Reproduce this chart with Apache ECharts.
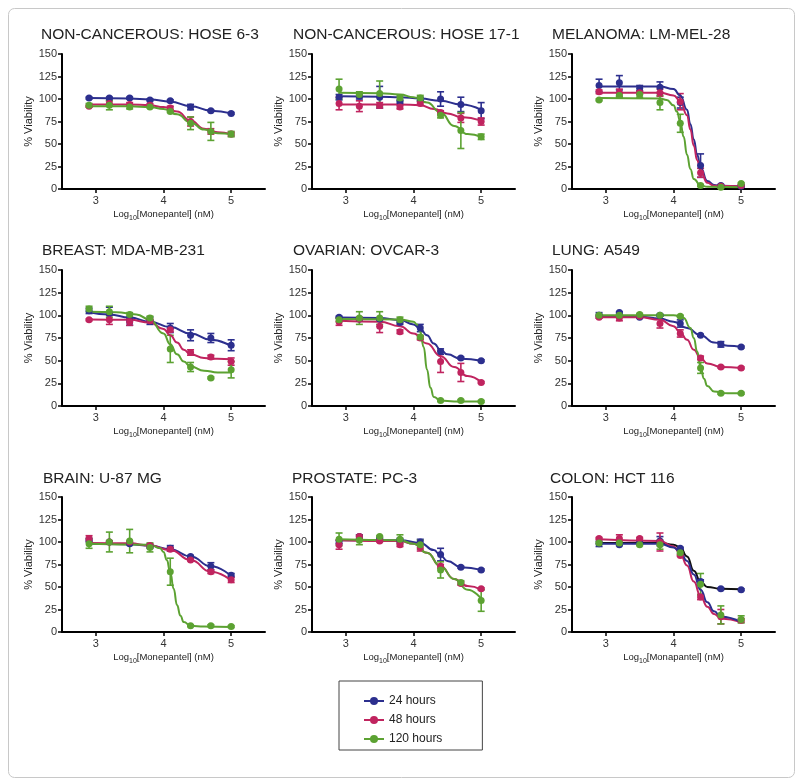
<!DOCTYPE html>
<html><head><meta charset="utf-8">
<script src="https://cdn.jsdelivr.net/npm/echarts@6/dist/echarts.min.js"></script>
<style>html,body{margin:0;padding:0;background:#fff}#c{width:800px;height:782px}</style>
</head><body><div id="c"></div><script>
// ---------- shared ----------
const doses = [2.9, 3.2, 3.5, 3.8, 4.1, 4.4, 4.7, 5.0];
const xTickValues = [3, 4, 5];
const seriesNames = ['24 hours', '48 hours', '120 hours'];
const panelTitles = ['NON-CANCEROUS: HOSE 6-3', 'NON-CANCEROUS: HOSE 17-1', 'MELANOMA: LM-MEL-28',
  'BREAST: MDA-MB-231', 'OVARIAN: OVCAR-3', 'LUNG: A549',
  'BRAIN: U-87 MG', 'PROSTATE: PC-3', 'COLON: HCT 116'];
const drugNames = ['Monepantel', 'Monepantel', 'Monepantel', 'Monepantel', 'Monepantel', 'Monepantel',
  'Monepantel', 'Monepantel', 'Monapantel'];

// ---------- HOSE 6-3 ----------
const hose63_24 = [101, 101, 101, 99, 98, 91, 87, 84];
const hose63_24_err = [1, 1, 1, 1, 1, 3, 1, 1];
const hose63_48 = [92, 95, 94, 93, 90, 75, 64, 61];
const hose63_48_err = [1, 3, 2, 2, 2, 5, 3, 2];
const hose63_120 = [93, 93, 91, 91, 86, 73, 64, 61];
const hose63_120_err = [2, 5, 2, 1, 1, 7, 10, 3];
const hose63_24_fit = [[2.9,101],[3.5,100.5],[3.8,99.5],[4.1,97],[4.4,92],[4.7,87],[5.0,84]];
const hose63_48_fit = [[2.9,94],[3.5,94],[3.8,93],[4.0,91],[4.2,86],[4.4,76],[4.6,67],[4.8,63],[5.0,61]];
const hose63_120_fit = [[2.9,92],[3.5,92],[3.8,91],[4.0,89],[4.2,83],[4.4,74],[4.6,66],[4.8,62],[5.0,61]];

// ---------- HOSE 17-1 ----------
const hose171_24 = [102, 103, 102, 97, 100, 100, 94, 87];
const hose171_24_err = [3, 3, 12, 2, 2, 8, 8, 9];
const hose171_48 = [95, 92, 93, 91, 95, 85, 79, 75];
const hose171_48_err = [7, 6, 3, 2, 2, 2, 5, 4];
const hose171_120 = [111, 105, 106, 101, 101, 82, 65, 58];
const hose171_120_err = [11, 3, 14, 3, 3, 3, 20, 3];
const hose171_24_fit = [[2.9,103],[3.5,102.5],[3.8,102],[4.1,100.5],[4.4,98],[4.7,94],[5.0,88]];
const hose171_48_fit = [[2.9,94],[3.5,94],[3.8,94],[4.1,93],[4.3,89],[4.5,84],[4.7,80],[5.0,76]];
const hose171_120_fit = [[2.9,107],[3.5,106.5],[3.8,105],[4.0,102],[4.2,96],[4.4,85],[4.6,70],[4.8,61],[5.0,58]];

// ---------- LM-MEL-28 ----------
const mel28_24 = [115, 118, 112, 113, 96, 26, 4, 3];
const mel28_24_err = [7, 8, 3, 6, 6, 13, 1, 1];
const mel28_48 = [108, 107, 107, 107, 97, 18, 3, 4];
const mel28_48_err = [2, 4, 2, 4, 9, 5, 1, 1];
const mel28_120 = [99, 104, 105, 96, 73, 4, 2, 6];
const mel28_120_err = [1, 2, 3, 8, 10, 1, 1, 1];
const mel28_24_fit = [[2.9,114],[3.8,114],[4.0,111],[4.1,104],[4.2,88],[4.25,72],[4.3,55],[4.35,38],[4.4,24],[4.5,9],[4.6,4.5],[4.7,3.5],[5.0,3]];
const mel28_48_fit = [[2.9,107],[3.8,107],[4.0,104],[4.1,98],[4.2,82],[4.25,66],[4.3,48],[4.35,32],[4.4,20],[4.5,7],[4.6,3.5],[5.0,3]];
const mel28_120_fit = [[2.9,101],[3.8,100.5],[3.9,99],[4.0,93],[4.05,86],[4.1,75],[4.15,58],[4.2,38],[4.25,22],[4.3,11],[4.4,4],[4.5,2.5],[5.0,2]];

// ---------- MDA-MB-231 ----------
const mda231_24 = [105, 102, 93, 94, 86, 78, 75, 67];
const mda231_24_err = [3, 7, 4, 4, 5, 6, 5, 6];
const mda231_48 = [95, 95, 93, 94, 84, 59, 54, 49];
const mda231_48_err = [1, 5, 4, 2, 2, 3, 2, 4];
const mda231_120 = [107, 104, 101, 97, 63, 43, 31, 40];
const mda231_120_err = [3, 6, 2, 2, 15, 5, 1, 9];
const mda231_24_fit = [[2.9,103.5],[3.2,101],[3.5,97.5],[3.8,93],[4.1,87],[4.4,80],[4.7,73],[5.0,66]];
const mda231_48_fit = [[2.9,95.5],[3.5,95],[3.8,92],[4.0,85],[4.1,78],[4.2,70],[4.3,62],[4.4,57],[4.6,53],[4.8,52],[5.0,51.5]];
const mda231_120_fit = [[2.9,104],[3.3,103.5],[3.6,101],[3.8,95],[4.0,80],[4.1,68],[4.2,57],[4.3,49],[4.4,43.5],[4.6,39],[4.8,37],[5.0,37]];

// ---------- OVCAR-3 ----------
const ovcar3_24 = [98, 96, 96, 92, 86, 60, 53, 50];
const ovcar3_24_err = [1, 1, 1, 2, 4, 3, 1, 1];
const ovcar3_48 = [93, 96, 88, 82, 75, 49, 37, 26];
const ovcar3_48_err = [4, 2, 7, 2, 2, 12, 10, 1];
const ovcar3_120 = [95, 97, 97, 95, 76, 6, 6, 5];
const ovcar3_120_err = [2, 7, 7, 3, 2, 1, 1, 1];
const ovcar3_24_fit = [[2.9,97.5],[3.5,97],[3.8,95],[4.0,90],[4.1,85],[4.2,78],[4.3,69],[4.4,62],[4.5,57],[4.7,52],[5.0,50]];
const ovcar3_48_fit = [[2.9,94],[3.5,93],[3.8,88],[4.0,80],[4.2,69],[4.4,55],[4.6,43],[4.8,33],[5.0,26]];
const ovcar3_120_fit = [[2.9,96],[3.8,95.5],[4.0,93],[4.05,90],[4.1,82],[4.15,65],[4.2,40],[4.25,20],[4.3,10],[4.4,6],[4.6,5],[5.0,5]];

// ---------- A549 ----------
const a549_24 = [100, 103, 98, 100, 91, 78, 68, 65];
const a549_24_err = [3, 1, 1, 1, 4, 1, 3, 1];
const a549_48 = [98, 97, 99, 91, 80, 53, 43, 42];
const a549_48_err = [1, 3, 1, 5, 4, 2, 1, 1];
const a549_120 = [100, 100, 101, 100, 99, 42, 14, 14];
const a549_120_err = [1, 1, 1, 1, 1, 6, 1, 1];
const a549_24_fit = [[2.9,99],[3.5,98.5],[3.8,96.5],[4.0,93],[4.2,86],[4.4,78],[4.6,70],[4.8,66.5],[5.0,65]];
const a549_48_fit = [[2.9,98],[3.5,98],[3.8,95],[4.0,88],[4.1,81],[4.2,73],[4.3,62],[4.4,53],[4.5,47],[4.7,43],[5.0,42]];
const a549_120_fit = [[2.9,100],[4.0,100],[4.15,97],[4.25,86],[4.3,75],[4.35,60],[4.4,43],[4.45,30],[4.5,22],[4.6,16],[4.8,14],[5.0,14]];

// ---------- U-87 MG ----------
const u87_24 = [102, 100, 98, 95, 93, 84, 73, 63];
const u87_24_err = [2, 1, 1, 2, 3, 1, 4, 2];
const u87_48 = [104, 100, 100, 96, 92, 80, 67, 58];
const u87_48_err = [3, 1, 1, 2, 2, 1, 2, 3];
const u87_120 = [98, 100, 101, 94, 67, 7, 7, 6];
const u87_120_err = [5, 11, 13, 5, 15, 1, 1, 1];
const u87_24_fit = [[2.9,98],[3.5,97.5],[3.8,96],[4.1,92],[4.4,84],[4.7,73],[5.0,62]];
const u87_48_fit = [[2.9,99],[3.5,98.5],[3.8,96],[4.1,91],[4.4,80],[4.7,67],[5.0,57]];
const u87_120_fit = [[2.9,98],[3.8,97],[3.95,93],[4.0,89],[4.05,80],[4.1,66],[4.15,48],[4.2,30],[4.25,18],[4.3,11],[4.4,7],[4.6,6],[5.0,5.5]];

// ---------- PC-3 ----------
const pc3_24 = [100, 106, 104, 102, 100, 86, 72, 69];
const pc3_24_err = [2, 2, 1, 2, 3, 7, 1, 1];
const pc3_48 = [97, 106, 101, 97, 94, 73, 54, 48];
const pc3_48_err = [5, 2, 1, 2, 4, 2, 2, 1];
const pc3_120 = [103, 102, 106, 103, 97, 69, 55, 35];
const pc3_120_err = [7, 5, 1, 5, 5, 9, 2, 12];
const pc3_24_fit = [[2.9,102],[3.8,102],[4.1,99],[4.3,91],[4.4,85],[4.5,79],[4.7,72],[5.0,69]];
const pc3_48_fit = [[2.9,102],[3.8,101],[4.0,98],[4.2,88],[4.4,73],[4.6,59],[4.8,51],[5.0,47]];
const pc3_120_fit = [[2.9,103],[3.8,102],[4.0,98],[4.2,88],[4.4,73],[4.6,59],[4.8,47],[5.0,37]];

// ---------- HCT 116 ----------
const hct116_24 = [98, 97, 99, 101, 93, 56, 48, 47];
const hct116_24_err = [3, 1, 1, 5, 1, 2, 1, 1];
const hct116_48 = [104, 104, 104, 100, 85, 39, 17, 13];
const hct116_48_err = [1, 4, 1, 10, 1, 3, 8, 2];
const hct116_120 = [99, 99, 97, 97, 88, 53, 19, 14];
const hct116_120_err = [1, 1, 1, 5, 1, 12, 10, 4];
const hct116_24_fit = [[2.9,99],[3.8,99],[4.0,97],[4.1,94],[4.2,84],[4.3,68],[4.4,56],[4.5,50],[4.7,48],[5.0,47.5]];
const hct116_48_fit = [[2.9,103],[3.8,101],[4.0,95],[4.1,87],[4.2,74],[4.3,56],[4.4,40],[4.5,28],[4.6,20],[4.7,15],[5.0,11]];
const hct116_120_fit = [[2.9,98],[3.8,98],[4.0,94],[4.1,89],[4.2,79],[4.3,64],[4.4,47],[4.5,33],[4.6,23],[4.7,17],[5.0,11]];

// ---------- assembly ----------
const panels = [
  [[hose63_24, hose63_24_err, hose63_24_fit], [hose63_48, hose63_48_err, hose63_48_fit], [hose63_120, hose63_120_err, hose63_120_fit]],
  [[hose171_24, hose171_24_err, hose171_24_fit], [hose171_48, hose171_48_err, hose171_48_fit], [hose171_120, hose171_120_err, hose171_120_fit]],
  [[mel28_24, mel28_24_err, mel28_24_fit], [mel28_48, mel28_48_err, mel28_48_fit], [mel28_120, mel28_120_err, mel28_120_fit]],
  [[mda231_24, mda231_24_err, mda231_24_fit], [mda231_48, mda231_48_err, mda231_48_fit], [mda231_120, mda231_120_err, mda231_120_fit]],
  [[ovcar3_24, ovcar3_24_err, ovcar3_24_fit], [ovcar3_48, ovcar3_48_err, ovcar3_48_fit], [ovcar3_120, ovcar3_120_err, ovcar3_120_fit]],
  [[a549_24, a549_24_err, a549_24_fit], [a549_48, a549_48_err, a549_48_fit], [a549_120, a549_120_err, a549_120_fit]],
  [[u87_24, u87_24_err, u87_24_fit], [u87_48, u87_48_err, u87_48_fit], [u87_120, u87_120_err, u87_120_fit]],
  [[pc3_24, pc3_24_err, pc3_24_fit], [pc3_48, pc3_48_err, pc3_48_fit], [pc3_120, pc3_120_err, pc3_120_fit]],
  [[hct116_24, hct116_24_err, hct116_24_fit], [hct116_48, hct116_48_err, hct116_48_fit], [hct116_120, hct116_120_err, hct116_120_fit]]
];

const COLORS = ['#2C2F8E', '#C0245F', '#5CA232'];
// HCT 116 fit curves are drawn black / red / blue in the original
const colonFitColors = ['#111111', '#C0245F', '#2C2F8E'];

const colLeft = [62, 312, 572];
const rowTop = [54, 270, 497];
const rowHeight = [135, 136, 135];
const gridWidth = 203;
const titleLeft = [[41, 293, 552], [42, 293, 552], [43, 292, 550]];
const titleTop = [27, 243, 471];
const yNameGap = [27, 22, 22];

const FONT = 'Liberation Sans, Arial, Helvetica, sans-serif';

function errRender(params, api) {
  const x = api.value(0), lo = api.value(1), hi = api.value(2);
  const p1 = api.coord([x, lo]), p2 = api.coord([x, hi]);
  const c = api.visual('color');
  const w = 3.5;
  const st = { stroke: c, lineWidth: 1.6 };
  return {
    type: 'group', children: [
      { type: 'line', shape: { x1: p1[0], y1: p1[1], x2: p2[0], y2: p2[1] }, style: st },
      { type: 'line', shape: { x1: p1[0] - w, y1: p1[1], x2: p1[0] + w, y2: p1[1] }, style: st },
      { type: 'line', shape: { x1: p2[0] - w, y1: p2[1], x2: p2[0] + w, y2: p2[1] }, style: st }
    ]
  };
}

const grids = [], xAxes = [], yAxes = [], titles = [], lineSeries = [], otherSeries = [];
panels.forEach((panel, i) => {
  const r = Math.floor(i / 3), c = i % 3;
  grids.push({ left: colLeft[c], top: rowTop[r], width: gridWidth, height: rowHeight[r], containLabel: false });
  titles.push({
    text: panelTitles[i], left: titleLeft[r][c], top: titleTop[r], padding: 0,
    textStyle: { fontSize: 15.5, fontWeight: 'normal', color: '#222', fontFamily: FONT }
  });
  xAxes.push({
    gridIndex: i, type: 'value', min: 2.5, max: 5.5, interval: 0.5,
    splitLine: { show: false },
    axisLine: { lineStyle: { color: '#000', width: 2 } },
    axisTick: { customValues: xTickValues, length: 4, lineStyle: { color: '#000', width: 1.5 } },
    axisLabel: { customValues: xTickValues, fontSize: 11, color: '#333', margin: 6, fontFamily: FONT },
    name: '{a|Log}{b|10}{a|[' + drugNames[i] + '] (nM)}',
    nameLocation: 'middle', nameGap: 20,
    nameTextStyle: {
      color: '#222', fontFamily: FONT,
      rich: {
        a: { fontSize: 9.5, color: '#222', fontFamily: FONT, padding: [0, 0, 3, 0] },
        b: { fontSize: 7, color: '#222', fontFamily: FONT, verticalAlign: 'bottom' }
      }
    }
  });
  yAxes.push({
    gridIndex: i, type: 'value', min: 0, max: 150, interval: 25,
    splitLine: { show: false },
    axisLine: { show: true, lineStyle: { color: '#000', width: 2 } },
    axisTick: { show: true, length: 4, lineStyle: { color: '#000', width: 1.5 } },
    axisLabel: { fontSize: 11, color: '#333', margin: 5, fontFamily: FONT },
    name: '% Viability', nameLocation: 'middle', nameGap: yNameGap[c],
    nameTextStyle: { fontSize: 11, color: '#222', fontFamily: FONT }
  });
  panel.forEach((grp, k) => {
    const mean = grp[0], err = grp[1], fit = grp[2];
    const col = COLORS[k];
    const fitCol = i === 8 ? colonFitColors[k] : col;
    lineSeries.push({
      name: i === 8 ? seriesNames[k] + ' fit' : seriesNames[k],
      type: 'line', xAxisIndex: i, yAxisIndex: i, data: fit,
      smooth: 0.5, smoothMonotone: 'x', symbol: 'circle', showSymbol: false,
      itemStyle: { color: fitCol }, lineStyle: { color: fitCol, width: 2 },
      silent: true, z: 3
    });
    otherSeries.push({
      name: seriesNames[k], type: 'custom', xAxisIndex: i, yAxisIndex: i,
      renderItem: errRender, itemStyle: { color: col },
      data: doses.map((d, j) => [d, mean[j] - err[j], mean[j] + err[j]]),
      encode: { x: 0, y: [1, 2] }, silent: true, z: 2
    });
    otherSeries.push({
      name: seriesNames[k], type: 'scatter', xAxisIndex: i, yAxisIndex: i,
      data: doses.map((d, j) => [d, mean[j]]),
      symbol: 'circle', symbolSize: 7, itemStyle: { color: col, opacity: 1 }, z: 4
    });
  });
});

const chart = echarts.init(document.getElementById('c'), null, { renderer: 'canvas' });
chart.setOption({
  animation: false,
  backgroundColor: '#fff',
  title: titles,
  grid: grids,
  xAxis: xAxes,
  yAxis: yAxes,
  legend: {
    data: seriesNames, orient: 'vertical', left: 339, top: 681,
    itemWidth: 20, itemHeight: 10, itemGap: 7,
    padding: [14, 40, 5, 24], borderColor: '#444', borderWidth: 1,
    selectedMode: false,
    textStyle: { fontSize: 12, color: '#222', fontFamily: FONT }
  },
  graphic: [{
    type: 'rect', left: 6, top: 6, silent: true, z: -10,
    shape: { width: 786, height: 769, r: 6 },
    style: { fill: 'none', stroke: '#c8c8c8', lineWidth: 1 }
  }],
  series: lineSeries.concat(otherSeries)
});
</script></body></html>
